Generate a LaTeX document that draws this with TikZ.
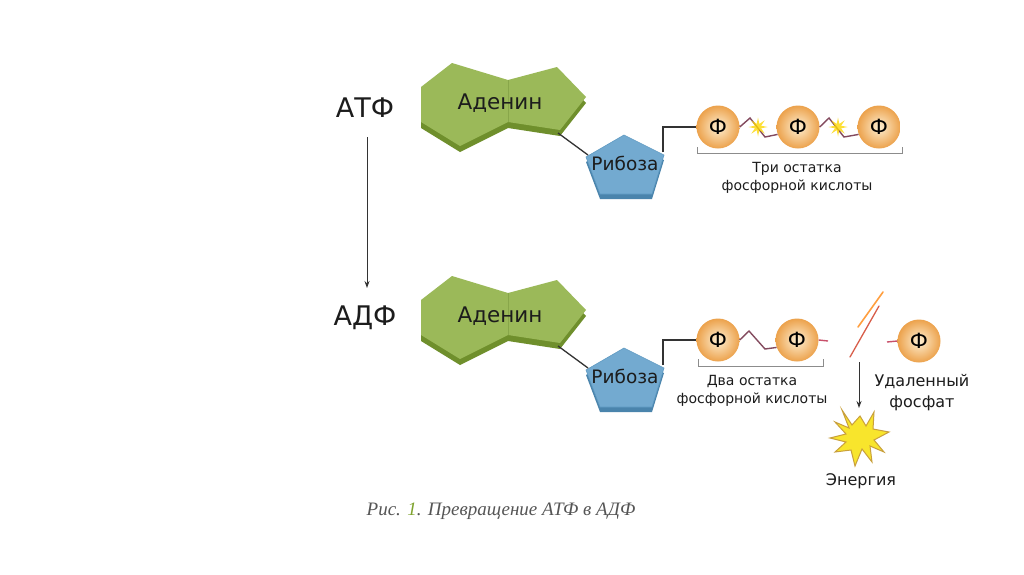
\documentclass[tikz,border=0pt]{standalone}
\usepackage{fontspec}
\setmainfont{DejaVu Sans}
\newfontfamily\capfont{Liberation Serif}
\usetikzlibrary{arrows.meta,shapes.geometric}
\definecolor{adtop}{HTML}{9BB959}
\definecolor{adband}{HTML}{6F8F2C}
\definecolor{adseam}{HTML}{88A64A}
\definecolor{ribtop}{HTML}{73AAD0}
\definecolor{ribband}{HTML}{4A84AC}
\definecolor{ribedge}{HTML}{5F9AC2}
\definecolor{phin}{HTML}{FEEFD2}
\definecolor{phout}{HTML}{ECA24C}
\definecolor{zigc}{HTML}{834A5E}
\definecolor{stubc}{HTML}{C8506A}
\definecolor{txt}{HTML}{1C1C1C}
\definecolor{bondc}{HTML}{333333}
\definecolor{brkc}{HTML}{8C8C8C}
\definecolor{capgreen}{HTML}{7FA32E}
\definecolor{capgray}{HTML}{555555}
\definecolor{boomfill}{HTML}{F8E52C}
\definecolor{boomedge}{HTML}{C9A03C}
\tikzset{
  lbl/.style={inner sep=0pt, text=txt, font=\fontsize{21.5}{21.5}\selectfont},
  riblbl/.style={inner sep=0pt, text=txt, font=\fontsize{18.5}{18.5}\selectfont},
  big/.style={inner sep=0pt, text=txt, font=\fontsize{27}{27}\selectfont},
  small/.style={inner sep=0pt, text=txt, align=center, font=\fontsize{14}{18.5}\selectfont},
  mid/.style={inner sep=0pt, text=txt, align=center, font=\fontsize{16}{21}\selectfont},
  phos/.style={circle, minimum size=43pt, inner sep=0pt, shading=radial, inner color=phin, outer color=phout, text=black, font=\fontsize{21}{21}\selectfont},
  bond/.style={draw=bondc, line width=1.3pt},
  zig/.style={draw=zigc, line width=1.4pt, line join=miter},
  stub/.style={draw=stubc, line width=1.4pt},
  brk/.style={draw=brkc, line width=0.9pt},
  spark/.style={star, star points=8, star point ratio=2.8, minimum size=19pt, inner sep=0pt, fill=yellow!75!orange, draw=none, opacity=0.8},
  arr/.style={draw=bondc, line width=1pt, -{Stealth[length=7pt,width=5pt]}},
}
\def\adpath{(421,87)--(452,63)--(508,80)--(557,67)--(586,97)--(560,130)--(508,122)--(460,146)--(421,122)--cycle}
\def\ribpath{(624,135)--(664,155)--(652,194)--(600,194)--(586,157)--cycle}
\newcommand\molrow[2]{%
  \begin{scope}[shift={(0,#2)}]
    \fill[adband] [shift={(0,6)}] \adpath;
    \fill[adtop] \adpath;
    \draw[adseam, line width=0.6pt] (508,80) -- (508,122);
    \fill[ribband] [shift={(0,5)}] \ribpath;
    \filldraw[fill=ribtop, draw=ribedge, line width=0.6pt] \ribpath;
    \node[lbl] (aden#1) at (500,103) {Аденин};
    \node[riblbl] (rib#1) at (625,163) {Рибоза};
    \coordinate (adbr#1) at (558,133);
    \coordinate (ribl#1) at (588,155);
    \coordinate (ribr#1) at (663,152);
    \draw[bond] (adbr#1) -- (ribl#1);
  \end{scope}}
\begin{document}
\begin{tikzpicture}[x=1pt,y=-1pt]
\useasboundingbox (0,0) rectangle (1024,574);
\fill[white] (0,0) rectangle (1024,574);

% labels ATF / ADF and arrow
\node[big] (atf) at (365,108) {АТФ};
\node[big] (adf) at (365,318) {АДФ};
\coordinate (arrend) at (367,288);
\draw[arr] (367,137) -- (arrend);

% top row
\molrow{a}{0}
\node[phos] (pa1) at (718,127) {Ф};
\node[phos] (pa2) at (798,127) {Ф};
\node[phos] (pa3) at (879,127) {Ф};
\draw[bond] (ribra) |- (pa1.west);
\draw[zig] (pa1.east) -- (750,118) -- (765,137) -- (pa2.200);
\draw[zig] (pa2.east) -- (829,118) -- (844,137) -- (pa3.200);
\node[spark] (sa1) at (758,127) {};
\node[spark] (sa2) at (838,127) {};
\draw[brk] (697,147) -- (697,153) -- (902,153) -- (902,147);
\node[small] (tri) at (797,178) {Три остатка\\фосфорной кислоты};

% bottom row
\molrow{b}{213}
\node[phos] (pb1) at (718,340) {Ф};
\node[phos] (pb2) at (797,340) {Ф};
\draw[bond] (ribrb) |- (pb1.west);
\draw[zig] (pb1.east) -- (749,331) -- (765,349) -- (pb2.200);
\coordinate (stb) at (828,341);
\draw[stub] (pb2.east) -- (stb);
\draw[brk] (698,359) -- (698,366) -- (823,366) -- (823,359);
\node[small] (dva) at (752,391) {Два остатка\\фосфорной кислоты};

% lightning
\draw[orange!75, line width=1.6pt, line cap=round] (883,292) -- (858,327);
\draw[stubc!70!orange, line width=1.3pt, line cap=round] (879,306) -- (850,357);

% removed phosphate
\node[phos] (pr) at (919,341) {Ф};
\coordinate (str) at (887,342);
\draw[stub] (str) -- (pr.west);
\node[mid] (udal) at (922,393) {Удаленный\\фосфат};

% energy
\coordinate (boomtop) at (859,408);
\draw[arr] (859,362) -- (boomtop);
\filldraw[fill=boomfill, draw=boomedge, line width=1pt, line join=miter]
  (842,410) -- (852,425) -- (860,416) -- (866,426) -- (874,412) -- (873,429)
  -- (889,432) -- (874,440) -- (884,452) -- (870,446) -- (872,462) -- (862,449)
  -- (855,466) -- (851,450) -- (835,452) -- (846,442) -- (830,438) -- (846,434)
  -- (835,422) -- (849,428) -- cycle;
\node[mid] (energ) at (861,481) {Энергия};

% caption
\node[inner sep=0pt, text=capgray, font=\capfont\itshape\fontsize{19}{19}\selectfont] (cap) at (501,511)
  {Рис. {\color{capgreen}1}. Превращение АТФ в АДФ};
\end{tikzpicture}
\end{document}
